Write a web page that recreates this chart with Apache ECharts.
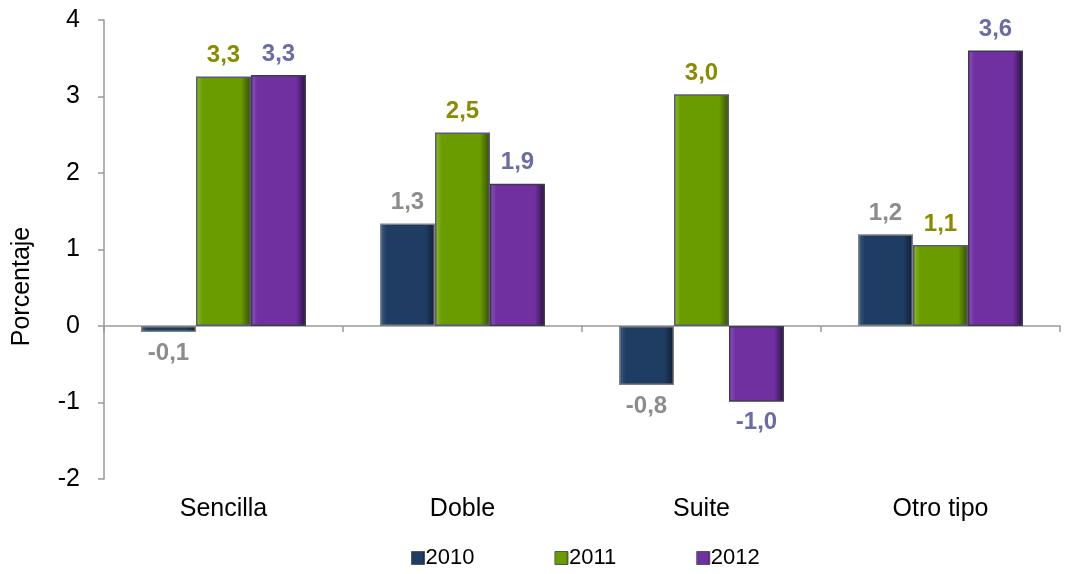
<!DOCTYPE html>
<html>
<head>
<meta charset="utf-8">
<script src="https://cdn.jsdelivr.net/npm/echarts@6/dist/echarts.min.js"></script>
<style>
html,body{margin:0;padding:0;background:#fff;}
#chart{width:1070px;height:574px;}
</style>
</head>
<body>
<div id="chart"></div>
<script>
// datos
var categorias = ['Sencilla', 'Doble', 'Suite', 'Otro tipo'];
var anios = ['2010', '2011', '2012'];
var v2010 = [-0.08, 1.34, -0.77, 1.2];
var v2011 = [3.26, 2.53, 3.03, 1.06];
var v2012 = [3.28, 1.86, -0.99, 3.6];
var ticksY = [-2, -1, 0, 1, 2, 3, 4];

var colores = [
	{ base: '#1f3d63', claro: '#3a5f8c', oscuro: '#0f1e33', borde: '#7f7f7f', label: '#8c8c8c' },
	{ base: '#6a9c00', claro: '#8cc21a', oscuro: '#334d00', borde: '#5a5a80', label: '#8b8b00' },
	{ base: '#7030a0', claro: '#9450c4', oscuro: '#2a0f40', borde: '#3c3c50', label: '#6b6ba8' }
];

function relleno(c){
	return new echarts.graphic.LinearGradient(0, 0, 1, 0, [
		{ offset: 0, color: c.claro },
		{ offset: 0.12, color: c.base },
		{ offset: 0.82, color: c.base },
		{ offset: 1, color: c.oscuro }
	]);
}

function serie(nombre, datos, c){
	return {
		name: nombre,
		type: 'bar',
		xAxisIndex: 0,
		data: datos,
		barGap: '0%',
		barCategoryGap: '31%',
		itemStyle: { color: relleno(c), borderColor: c.borde, borderWidth: 1.5 },
		label: {
			show: true,
			position: 'outside',
			distance: 9,
			color: c.label,
			fontSize: 24,
			fontWeight: 'bold',
			fontFamily: 'Arial, "Liberation Sans", sans-serif',
			formatter: function(p){ return p.value.toFixed(1).replace('.', ','); }
		}
	};
}

var chart = echarts.init(document.getElementById('chart'));
var option = {
	animation: false,
	textStyle: { fontFamily: 'Arial, "Liberation Sans", sans-serif' },
	grid: { left: 104, right: 10, top: 20, bottom: 95, outerBoundsMode: 'none' },
	legend: {
		data: anios.map(function(a, i){
			return { name: a, itemStyle: { color: relleno(colores[i]), borderColor: '#555', borderWidth: 1 } };
		}),
		bottom: 0,
		left: 406,
		itemWidth: 13,
		itemHeight: 13,
		itemGap: 80,
		icon: 'rect',
		textStyle: { fontSize: 22, color: '#000', padding: [0, 0, 0, -4] }
	},
	xAxis: [
		{
			type: 'category',
			data: categorias,
			axisLine: { onZero: true, lineStyle: { color: '#999', width: 1.5 } },
			axisTick: { show: true, length: 6, lineStyle: { color: '#999', width: 1.5 } },
			axisLabel: { show: false }
		},
		{
			type: 'category',
			data: categorias,
			position: 'bottom',
			axisLine: { show: false },
			axisTick: { show: false },
			axisLabel: { fontSize: 25, color: '#000', margin: 18 }
		}
	],
	yAxis: {
		type: 'value',
		min: ticksY[0],
		max: ticksY[ticksY.length - 1],
		interval: 1,
		name: 'Porcentaje',
		nameLocation: 'middle',
		nameGap: 69,
		nameTextStyle: { fontSize: 25, color: '#000', padding: [0, 74, 0, 0] },
		splitLine: { show: false },
		axisLine: { show: true, lineStyle: { color: '#999', width: 1.5 } },
		axisTick: { show: true, length: 6, lineStyle: { color: '#999', width: 1.5 } },
		axisLabel: { fontSize: 25, color: '#000', margin: 24 }
	},
	series: [
		serie(anios[0], v2010, colores[0]),
		serie(anios[1], v2011, colores[1]),
		serie(anios[2], v2012, colores[2])
	]
};
chart.setOption(option);
</script>
</body>
</html>
